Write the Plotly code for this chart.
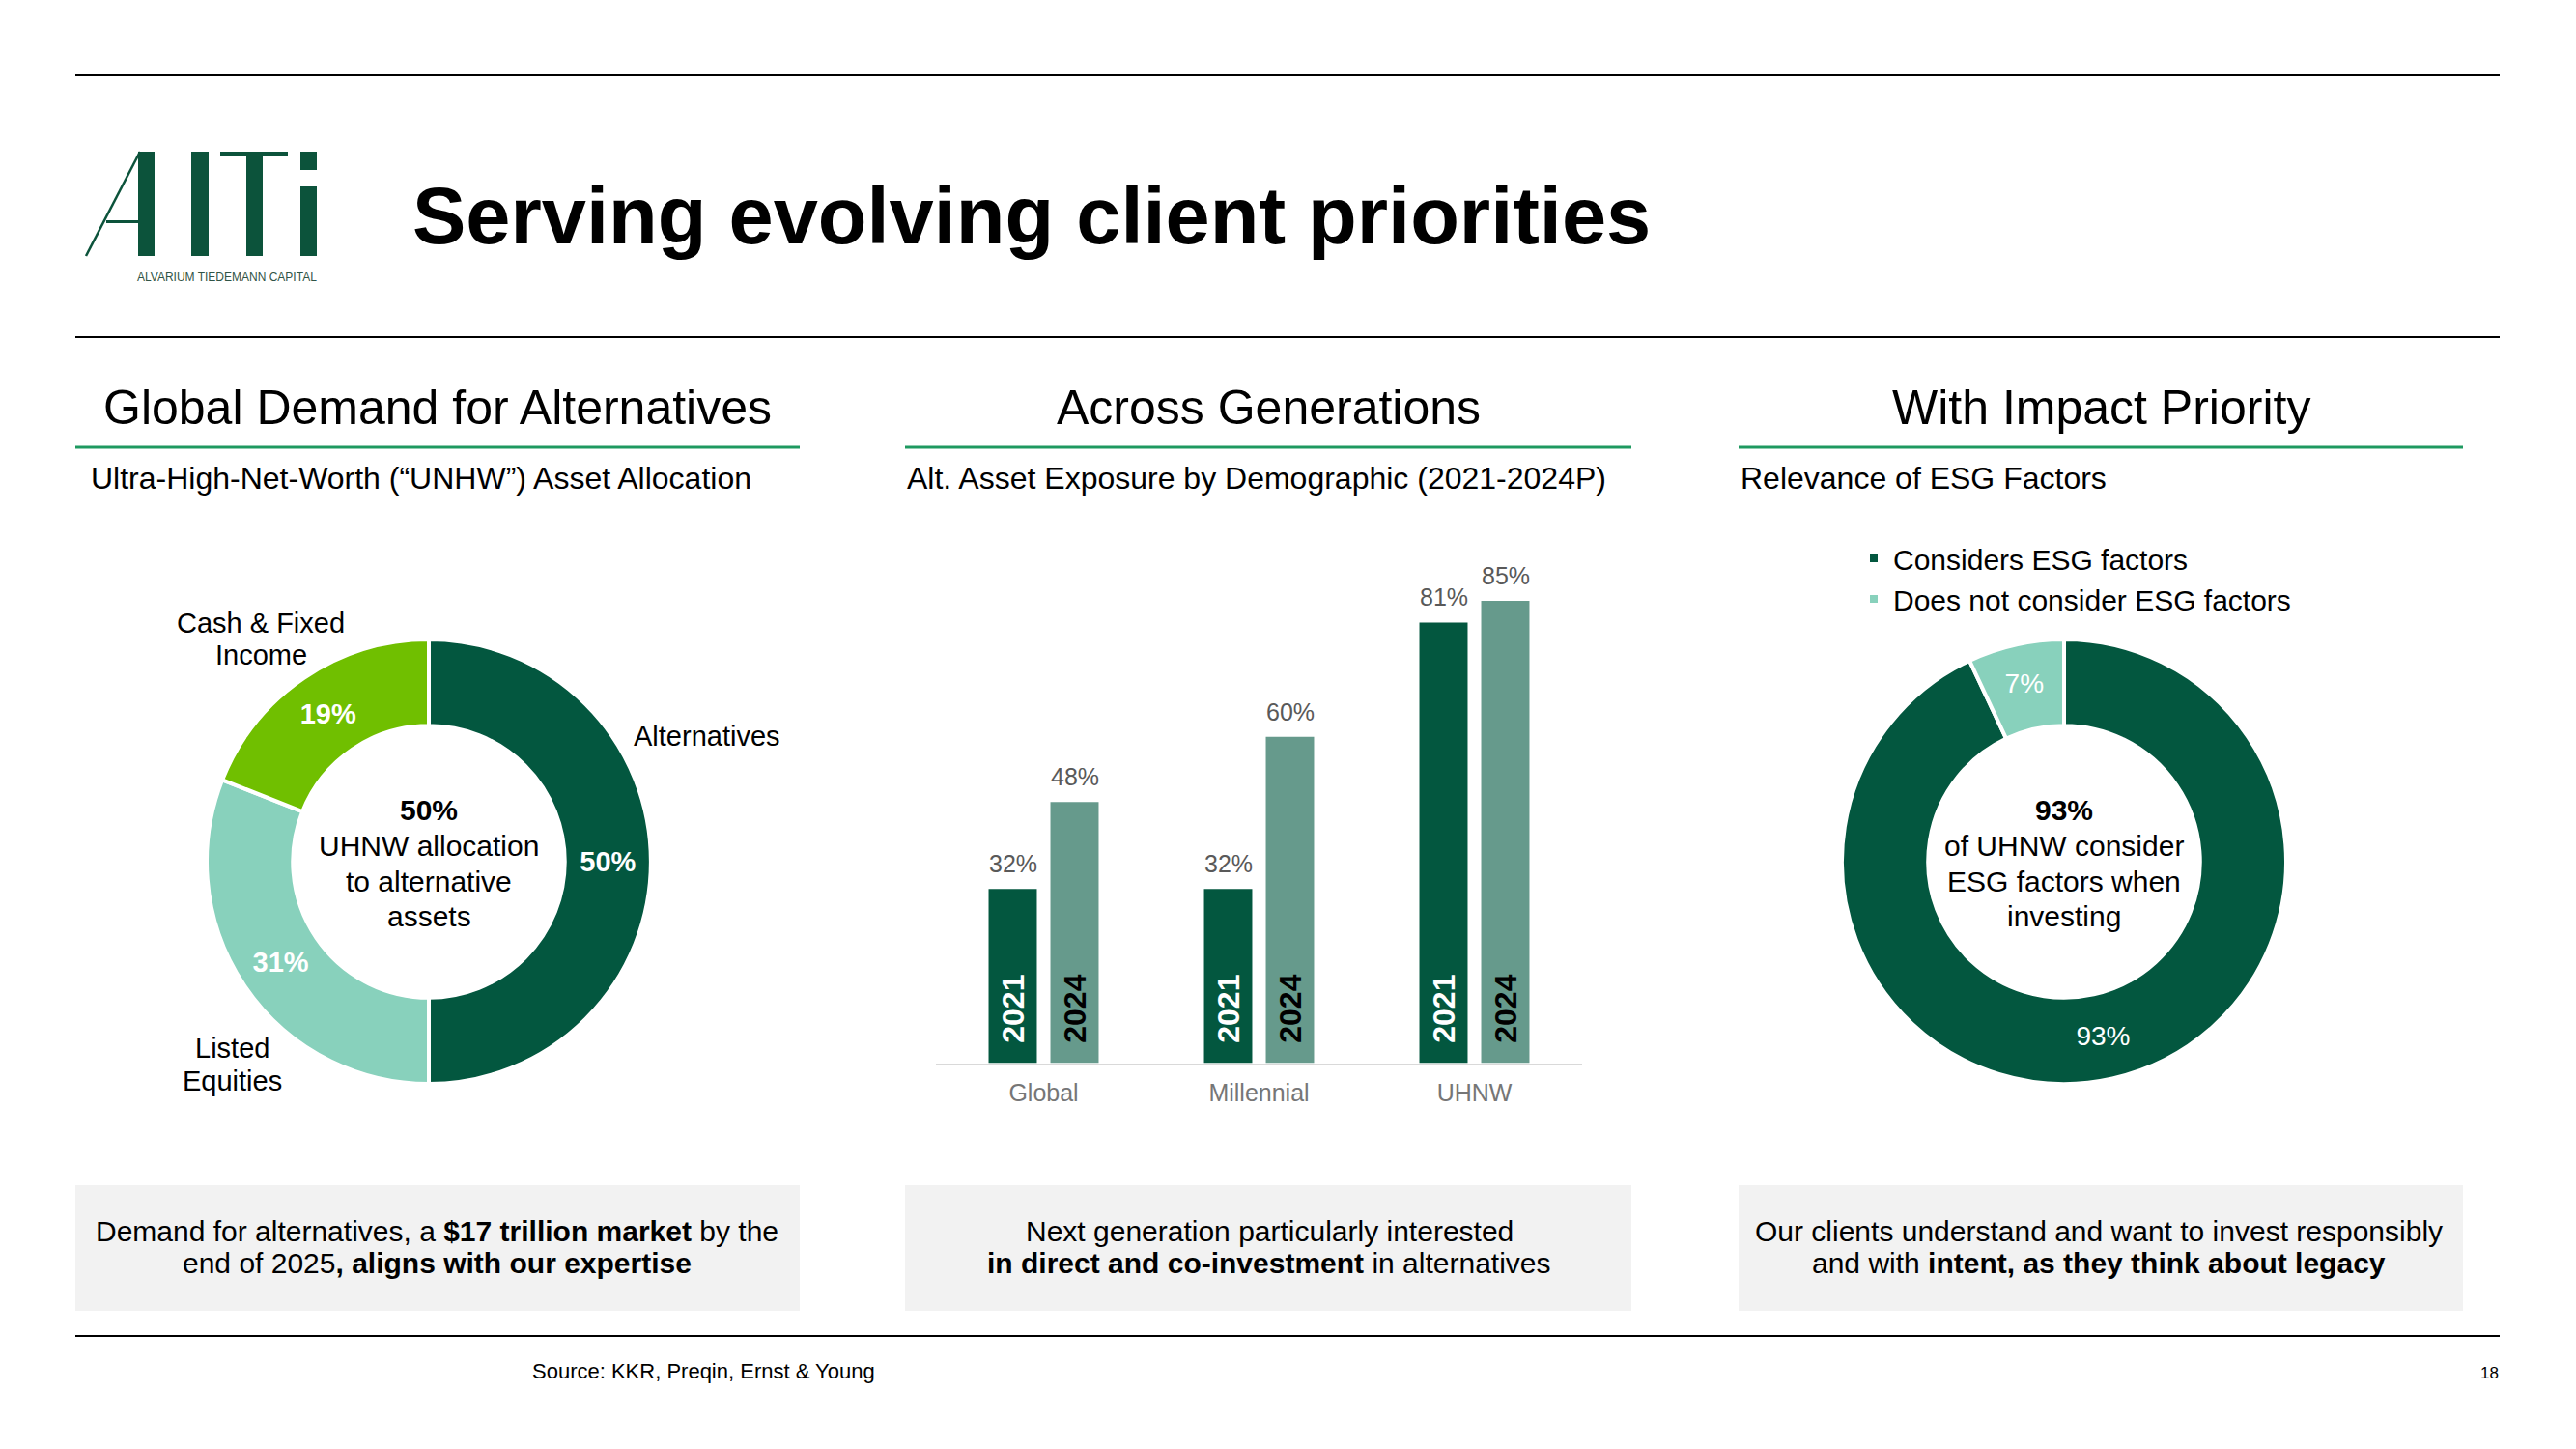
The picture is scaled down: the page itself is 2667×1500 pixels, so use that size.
import plotly.graph_objects as go

W, H = 2667, 1500
FONT = "Liberation Sans, Arial, Helvetica, sans-serif"

# ---------------- data ----------------
alloc_labels = ["Alternatives", "Listed Equities", "Cash & Fixed Income"]
alloc_values = [50, 31, 19]
alloc_label_lines = [["Alternatives"], ["Listed", "Equities"], ["Cash & Fixed", "Income"]]

demo_categories = ["Global", "Millennial", "UHNW"]
years = ["2021", "2024"]
exposure_2021 = [32, 32, 81]
exposure_2024 = [48, 60, 85]

esg_labels = ["Considers ESG factors", "Does not consider ESG factors"]
esg_values = [93, 7]

# ---------------- styles ----------------
DARK = "#03573F"
MINT = "#88D1BC"
LIME = "#70BF00"
SAGE = "#669A8C"
LINE_GREEN = "#1E9960"
LOGO = "#0C533B"


def fx(px):
    return px / W


def fy(py):
    return 1 - py / H


def ann(text, x, y, size, color="black", xanchor="center", yanchor="middle", **kw):
    d = dict(text=text, x=fx(x), y=fy(y), xref="paper", yref="paper", showarrow=False,
             font=dict(family=FONT, size=size, color=color), xanchor=xanchor, yanchor=yanchor)
    d.update(kw)
    return d


fig = go.Figure()

# ---------- donut 1 ----------
R = 230
c1 = (444, 892)
fig.add_trace(go.Pie(
    labels=alloc_labels, values=alloc_values, sort=False, direction="clockwise", rotation=0,
    hole=0.612, marker=dict(colors=[DARK, MINT, LIME], line=dict(color="white", width=4)),
    texttemplate="<b>%{value}%</b>", textposition="inside", insidetextorientation="horizontal",
    textfont=dict(family=FONT, size=29, color="white"), showlegend=False, hoverinfo="skip",
    domain=dict(x=[fx(c1[0] - R), fx(c1[0] + R)], y=[fy(c1[1] + R), fy(c1[1] - R)]),
))

# ---------- donut ESG ----------
c3 = (2137, 892)
fig.add_trace(go.Pie(
    labels=esg_labels, values=esg_values, sort=False, direction="clockwise", rotation=0,
    hole=0.612, marker=dict(colors=[DARK, MINT], line=dict(color="white", width=4)),
    texttemplate="%{value}%", textposition="inside", insidetextorientation="horizontal",
    textfont=dict(family=FONT, size=28, color="white"), showlegend=True, hoverinfo="skip",
    domain=dict(x=[fx(c3[0] - R), fx(c3[0] + R)], y=[fy(c3[1] + R), fy(c3[1] - R)]),
))

# ---------- bars ----------
BAR_W = 0.224
OFFS = [-0.2555, 0.0315]
series = [exposure_2021, exposure_2024]
colors = [DARK, SAGE]
txtcol = ["white", "black"]
for k, (yr, vals) in enumerate(zip(years, series)):
    fig.add_trace(go.Bar(
        x=demo_categories, y=vals, width=BAR_W, offset=OFFS[k], marker=dict(color=colors[k], line=dict(width=0)),
        text=["<b>\u00a0\u00a0" + yr + "</b>"] * len(vals), textposition="inside", insidetextanchor="start",
        textangle=-90, insidetextfont=dict(family=FONT, size=32, color=txtcol[k]),
        showlegend=False, hoverinfo="skip", xaxis="x", yaxis="y",
    ))

annotations = []
for k, vals in enumerate(series):
    for i, v in enumerate(vals):
        annotations.append(dict(text=f"{v}%", x=i + OFFS[k] + BAR_W / 2, y=v, xref="x", yref="y",
                                showarrow=False, yanchor="bottom", yshift=10,
                                font=dict(family=FONT, size=25, color="#595959")))

# ---------- texts ----------
annotations.append(ann("<b>Serving evolving client priorities</b>", 425, 223, 83, xanchor="left"))
annotations.append(ann("ALVARIUM TIEDEMANN CAPITAL", 140, 287, 12, color="#2F5446", xanchor="left"))

headers = [("Global Demand for Alternatives", 453), ("Across Generations", 1313), ("With Impact Priority", 2175)]
for t, x in headers:
    annotations.append(ann(t, x, 422, 50))
subs = [("Ultra-High-Net-Worth (\u201cUNHW\u201d) Asset Allocation", 92),
        ("Alt. Asset Exposure by Demographic (2021-2024P)", 937),
        ("Relevance of ESG Factors", 1800)]
for t, x in subs:
    annotations.append(ann(t, x, 495, 32, xanchor="left"))

# donut 1 outside labels
label_pos = [(732, [762]), (240, [1085, 1119]), (270, [645, 678])]
for lines, (x, ys) in zip(alloc_label_lines, label_pos):
    for line, y in zip(lines, ys):
        annotations.append(ann(line, x, y, 29))

# center texts
center1 = ["<b>50%</b>", "UHNW allocation", "to alternative", "assets"]
center3 = ["<b>93%</b>", "of UHNW consider", "ESG factors when", "investing"]
for lines, cx in [(center1, c1[0]), (center3, c3[0])]:
    for line, y in zip(lines, [838, 875, 912, 948]):
        annotations.append(ann(line, cx, y, 30))

# bottom boxes
boxes = [
    (453, ["Demand for alternatives, a <b>$17 trillion market</b> by the", "end of 2025<b>, aligns with our expertise</b>"]),
    (1314, ["Next generation particularly interested", "<b>in direct and co-investment</b> in alternatives"]),
    (2173, ["Our clients understand and want to invest responsibly", "and with <b>intent, as they think about legacy</b>"]),
]
for cx, lines in boxes:
    for line, y in zip(lines, [1274, 1307]):
        annotations.append(ann(line, cx, y, 30))

annotations.append(ann("Source: KKR, Preqin, Ernst &amp; Young", 549, 1419, 22, xanchor="left"))
annotations.append(ann("18", 2589, 1421, 17, xanchor="right"))

# ---------- shapes ----------
shapes = []


def rect(x0, y0, x1, y1, color):
    shapes.append(dict(type="rect", xref="paper", yref="paper", x0=fx(x0), x1=fx(x1), y0=fy(y1), y1=fy(y0),
                       fillcolor=color, line=dict(width=0), layer="below"))


def hline(x0, x1, y, color, width):
    shapes.append(dict(type="line", xref="paper", yref="paper", x0=fx(x0), x1=fx(x1), y0=fy(y), y1=fy(y),
                       line=dict(color=color, width=width)))


hline(78, 2588, 78, "black", 2)
hline(78, 2588, 349, "black", 1.8)
hline(78, 2588, 1383, "black", 2)
for x0, x1 in [(78, 828), (937, 1689), (1800, 2550)]:
    hline(x0, x1, 463, LINE_GREEN, 3)
    rect(x0, 1227, x1, 1357, "#F2F2F2")

# logo "AITi"
shapes.append(dict(type="line", xref="paper", yref="paper", x0=fx(89), y0=fy(265), x1=fx(145), y1=fy(157),
                   line=dict(color=LOGO, width=2.5)))
rect(143, 157, 160, 265, LOGO)          # A stem
rect(110, 228, 144, 231, LOGO)          # A crossbar
rect(198, 157, 216, 265, LOGO)          # I
rect(228, 157, 298, 162, LOGO)          # T bar
rect(255, 157, 272, 265, LOGO)          # T stem
rect(311, 157, 328, 176, LOGO)          # i dot
rect(311, 193, 328, 265, LOGO)          # i stem

fig.update_layout(
    width=W, height=H, margin=dict(l=0, r=0, t=0, b=0), paper_bgcolor="white", plot_bgcolor="white",
    barmode="overlay", annotations=annotations, shapes=shapes,
    xaxis=dict(domain=[fx(969), fx(1638)], range=[-0.5, 2.5], type="category", showgrid=False, zeroline=False,
               showline=True, linecolor="#D9D9D9", linewidth=2, ticks="",
               tickfont=dict(family=FONT, size=25, color="#767676"), ticklabelstandoff=7, fixedrange=True),
    yaxis=dict(domain=[fy(1100.5), fy(537.5)], range=[0, 100], visible=False, fixedrange=True),
    legend=dict(x=fx(1920), y=fy(552), xanchor="left", yanchor="top", bgcolor="rgba(0,0,0,0)",
                font=dict(family=FONT, size=30, color="black"), itemclick=False, itemdoubleclick=False,
                tracegroupgap=0),
    font=dict(family=FONT),
)

fig.write_html("out.html", config={"displayModeBar": False},
               post_script="document.body.style.margin='0';")
